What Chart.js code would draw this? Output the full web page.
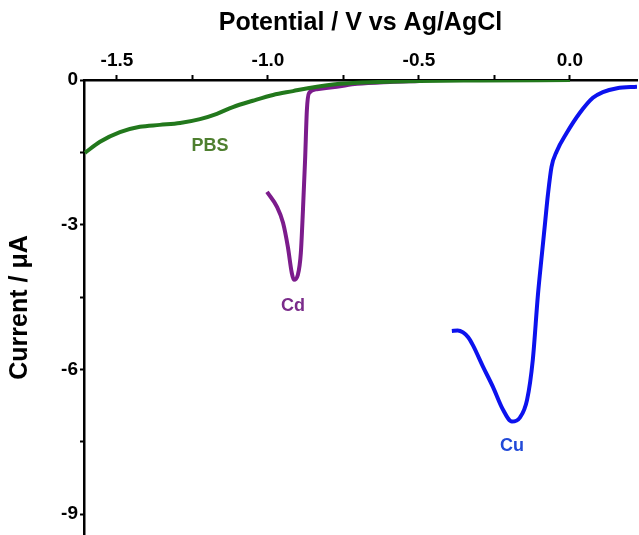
<!DOCTYPE html>
<html>
<head>
<meta charset="utf-8">
<script src="https://cdn.jsdelivr.net/npm/chart.js@4"></script>
<style>
html,body{margin:0;padding:0;background:#fff;overflow:hidden;}
#wrap{width:639px;height:535px;overflow:hidden;}
</style>
</head>
<body>
<div id="wrap"><canvas id="c" width="639" height="535"></canvas></div>
<script>
// Potential (V vs Ag/AgCl) and current (µA)
const pbsX = [-1.606,-1.556,-1.490,-1.424,-1.358,-1.291,-1.225,-1.169,-1.116,-1.050,-0.983,-0.917,-0.868,-0.762,-0.629,-0.497,-0.298,0.0];
const pbsY = [-1.51,-1.28,-1.08,-0.97,-0.93,-0.89,-0.81,-0.70,-0.56,-0.43,-0.31,-0.23,-0.17,-0.08,-0.04,-0.02,-0.01,0.0];

const cdX = [-1.003,-0.970,-0.950,-0.934,-0.921,-0.914,-0.901,-0.891,-0.884,-0.877,-0.871,-0.864,-0.838,-0.772,-0.705,-0.596,-0.50];
const cdY = [-2.32,-2.63,-2.96,-3.46,-4.00,-4.14,-4.04,-3.58,-2.69,-1.66,-0.62,-0.27,-0.19,-0.14,-0.08,-0.04,-0.02];

const cuX = [-0.391,-0.372,-0.354,-0.337,-0.321,-0.288,-0.255,-0.222,-0.192,-0.166,-0.142,-0.123,-0.106,-0.093,-0.083,-0.073,-0.061,-0.044,-0.011,0.033,0.076,0.109,0.156,0.222];
const cuY = [-5.20,-5.19,-5.23,-5.33,-5.50,-5.94,-6.36,-6.83,-7.08,-7.00,-6.63,-5.80,-4.45,-3.62,-3.00,-2.38,-1.80,-1.48,-1.10,-0.68,-0.37,-0.25,-0.17,-0.14];

const xTicks = [-1.5,-1.25,-1.0,-0.75,-0.5,-0.25,0.0];
const xMajor = [-1.5,-1.0,-0.5,0.0];
const yTicks = [0,-1.5,-3,-4.5,-6,-7.5,-9];
const yMajor = [0,-3,-6,-9];

const seriesNames = ['PBS','Cd','Cu'];
const labelX = [-1.192,-0.917,-0.192];
const labelY = [-1.37,-4.68,-7.58];

const lineColors = ['#22781c','#7c1c8c','#0c12ee'];
const textColors = ['#4e7f2f','#7a2b8a','#2149d8'];

function pts(xs, ys){ return xs.map((x,i)=>({x:x, y:ys[i]})); }

const FONT = "'Liberation Sans', Arial, sans-serif";

const textLabels = {
  id:'textLabels',
  afterDatasetsDraw(chart){
    const ctx = chart.ctx, xs = chart.scales.x, ys = chart.scales.y;
    ctx.save();
    ctx.font = 'bold 18px ' + FONT;
    ctx.textAlign = 'center';
    ctx.textBaseline = 'middle';
    seriesNames.forEach((n,i)=>{
      ctx.fillStyle = textColors[i];
      ctx.fillText(n, xs.getPixelForValue(labelX[i]), ys.getPixelForValue(labelY[i]));
    });
    ctx.restore();
  }
};

new Chart(document.getElementById('c'), {
  type:'scatter',
  data:{
    datasets:[
      {label:'PBS', data:pts(pbsX,pbsY), borderColor:lineColors[0]},
      {label:'Cd', data:pts(cdX,cdY), borderColor:lineColors[1]},
      {label:'Cu', data:pts(cuX,cuY), borderColor:lineColors[2]}
    ].map(d=>Object.assign(d,{showLine:true,pointRadius:0,borderWidth:4,cubicInterpolationMode:'monotone',fill:false}))
  },
  options:{
    responsive:false,
    animation:false,
    layout:{padding:{top:0,right:2,bottom:0,left:0}},
    plugins:{legend:{display:false},tooltip:{enabled:false}},
    scales:{
      x:{
        type:'linear', position:'top', min:-1.609, max:0.222,
        afterBuildTicks(s){ s.ticks = xTicks.map(v=>({value:v})); },
        afterFit(s){ s.height = 80; s.paddingLeft = 0; s.paddingRight = 0; },
        ticks:{
          color:'#000', font:{family:FONT,size:19,weight:'bold'}, padding:3, maxRotation:0, autoSkip:false,
          callback:(v)=> xMajor.some(m=>Math.abs(m-v)<1e-6) ? v.toFixed(1) : ''
        },
        grid:{drawOnChartArea:false, drawTicks:true, tickLength:5, tickWidth:2, tickColor:'#000'},
        border:{color:'#000', width:2.5},
        title:{display:true, text:'Potential / V vs Ag/AgCl', color:'#000', font:{family:FONT,size:25,weight:'bold'}, padding:{top:8,bottom:0}}
      },
      y:{
        type:'linear', min:-9.43, max:0,
        afterBuildTicks(s){ s.ticks = yTicks.map(v=>({value:v})); },
        afterFit(s){ s.width = 84; s.paddingTop = 0; s.paddingBottom = 0; },
        ticks:{
          color:'#000', font:{family:FONT,size:19,weight:'bold'}, padding:2, autoSkip:false,
          callback:(v)=> yMajor.some(m=>Math.abs(m-v)<1e-6) ? String(v) : ''
        },
        grid:{drawOnChartArea:false, drawTicks:true, tickLength:4, tickWidth:2, tickColor:'#000'},
        border:{color:'#000', width:2.5},
        title:{display:true, text:'Current / μA', color:'#000', font:{family:FONT,size:25,weight:'bold'}, padding:{top:5,bottom:0}}
      }
    }
  },
  plugins:[textLabels]
});
</script>
</body>
</html>
